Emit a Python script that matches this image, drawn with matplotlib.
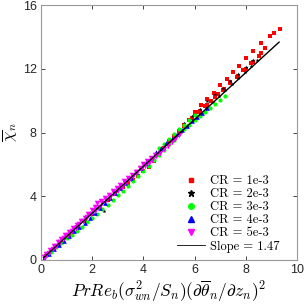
import matplotlib
matplotlib.use("Agg")
import matplotlib.pyplot as plt
from matplotlib.lines import Line2D

plt.rcParams['mathtext.fontset'] = 'cm'
plt.rcParams['font.family'] = ['Liberation Sans', 'DejaVu Sans']

# ---- data ----
labels = ["CR = 1e-3", "CR = 2e-3", "CR = 3e-3", "CR = 4e-3", "CR = 5e-3"]
slope = 1.47
line_x = [0.1, 9.3]

# CR = 1e-3 (red squares), several profiles
red_x1 = [0.2, 0.5, 0.8, 1.1, 1.4, 1.7, 2.0, 2.3, 2.6, 2.9, 3.2, 3.4, 3.6, 3.8, 4.0, 4.2, 4.4, 4.6, 4.8, 5.0, 5.2, 5.4, 5.6, 5.8, 6.0]
red_y1 = [0.25, 0.7, 1.15, 1.6, 2.05, 2.45, 2.9, 3.3, 3.75, 4.15, 4.55, 4.85, 5.0, 5.3, 5.6, 5.85, 6.2, 6.6, 7.0, 7.45, 7.75, 8.1, 8.4, 8.8, 9.15]
red_x2 = [6.0, 6.25, 6.5, 6.75, 7.0, 7.25, 7.5, 7.75, 8.0, 8.3, 8.6, 8.95, 9.34]
red_y2 = [9.3, 9.7, 10.1, 10.5, 10.95, 11.35, 11.8, 12.2, 12.65, 13.1, 13.6, 14.05, 14.5]
red_x3 = [5.9, 6.15, 6.4, 6.65, 6.9, 7.15, 7.4, 7.65, 7.9, 8.2, 8.5, 8.75, 9.1]
red_y3 = [8.9, 9.3, 9.65, 10.0, 10.4, 10.75, 11.15, 11.5, 11.9, 12.35, 12.8, 13.3, 14.25]
red_x4 = [5.6, 5.9, 6.2, 6.5, 6.8, 7.1, 7.4, 7.7, 8.0, 8.3, 8.6]
red_y4 = [8.45, 8.9, 9.35, 9.75, 10.2, 10.65, 11.1, 11.55, 12.0, 12.45, 13.0]

# CR = 2e-3 (black stars)
blk_x1 = [0.2, 0.45, 0.7, 0.95, 1.2, 1.45, 1.7, 1.95, 2.2, 2.45, 2.7, 2.95, 3.2, 3.45, 3.7, 3.95, 4.2, 4.45, 4.7, 4.95, 5.2, 5.45, 5.7, 5.95, 6.2, 6.45, 6.7, 6.95, 7.2, 7.45, 7.7, 7.95, 8.2, 8.45]
blk_y1 = [0.3, 0.66, 1.03, 1.4, 1.77, 2.13, 2.5, 2.87, 3.24, 3.1, 3.97, 4.34, 4.7, 5.07, 5.44, 5.81, 6.17, 6.54, 6.91, 7.28, 7.64, 8.01, 8.4, 8.78, 9.15, 9.53, 9.9, 10.28, 10.65, 11.03, 11.4, 11.78, 12.15, 12.53]
blk_x2 = [5.6, 5.9, 6.2, 6.5, 6.8, 7.1, 7.4, 7.7, 8.0, 8.3]
blk_y2 = [8.6, 9.05, 9.5, 9.95, 10.4, 10.8, 11.25, 11.7, 12.1, 12.55]

# CR = 3e-3 (green circles)
grn_x1 = [0.2, 0.4, 0.6, 0.8, 1.0, 1.2, 1.4, 1.6, 1.8, 2.0, 2.2, 2.4, 2.6, 2.8, 3.0, 3.2, 3.4, 3.6, 3.8, 4.0, 4.2, 4.4, 4.6, 4.8, 5.0, 5.2, 5.4, 5.6, 5.8, 6.0, 6.2, 6.4, 6.6, 6.8, 7.0, 7.2]
grn_y1 = [0.25, 0.5, 0.8, 1.05, 1.35, 1.6, 1.85, 2.1, 2.4, 2.65, 2.9, 3.2, 3.45, 3.75, 4.05, 4.35, 4.65, 4.95, 5.3, 5.6, 5.9, 6.25, 6.6, 6.9, 7.25, 7.55, 7.9, 8.2, 8.5, 8.8, 9.05, 9.3, 9.55, 9.8, 10.05, 10.3]
grn_x2 = [4.6, 4.8, 5.0, 5.2, 5.4, 5.6, 5.8, 6.0]
grn_y2 = [7.0, 7.3, 7.6, 7.9, 8.2, 8.5, 8.8, 9.1]

# CR = 4e-3 (blue up-triangles)
blu_x = [0.1, 0.3, 0.5, 0.7, 0.9, 1.1, 1.3, 1.5, 1.7, 1.9, 2.1, 2.3, 2.5, 2.7, 2.9, 3.1, 3.3, 3.5, 3.7, 3.9, 4.1, 4.3, 4.5, 4.7, 4.9, 5.1, 5.3, 5.5, 5.7, 5.9, 6.1, 6.3, 6.5]
blu_y = [0.12, 0.4, 0.68, 0.95, 1.22, 1.5, 1.8, 2.05, 2.35, 2.65, 2.95, 3.25, 3.55, 3.9, 4.2, 4.5, 4.85, 5.15, 5.5, 5.8, 6.1, 6.4, 6.75, 7.05, 7.35, 7.6, 7.9, 8.15, 8.4, 8.7, 8.95, 9.25, 9.55]

# CR = 5e-3 (magenta down-triangles)
mag_x1 = [0.1, 0.2, 0.35, 0.5, 0.65, 0.8, 0.95, 1.1, 1.25, 1.4, 1.55, 1.7, 1.85, 2.0, 2.1, 2.2, 2.35, 2.5, 2.65, 2.8, 2.95, 3.1, 3.25, 3.4, 3.55, 3.7, 3.85, 4.0, 4.15, 4.3, 4.45]
mag_y1 = [0.2, 0.4, 0.65, 0.85, 1.1, 1.3, 1.55, 1.75, 2.0, 2.2, 2.45, 2.65, 2.9, 3.15, 3.35, 3.55, 3.7, 3.9, 4.1, 4.3, 4.5, 4.7, 4.95, 5.15, 5.35, 5.55, 5.8, 6.0, 6.2, 6.4, 6.6]
mag_x2 = [0.15, 0.3, 0.45, 0.6, 0.75, 0.9, 1.05, 1.2, 1.35, 1.5, 1.65, 1.8, 1.95, 2.1, 2.25, 2.4, 2.55, 2.7, 2.85, 3.0, 3.15, 3.3, 3.45, 3.6, 3.75, 3.9, 4.05, 4.2, 4.35, 4.5, 4.65, 4.8, 4.95, 5.1, 5.25, 5.4]
mag_y2 = [0.2, 0.45, 0.7, 0.9, 1.15, 1.35, 1.6, 1.8, 2.0, 2.25, 2.45, 2.7, 2.9, 3.1, 3.35, 3.55, 3.75, 3.95, 4.2, 4.4, 4.6, 4.85, 5.05, 5.3, 5.5, 5.7, 5.9, 6.1, 6.3, 6.5, 6.7, 6.95, 7.15, 7.4, 7.6, 7.85]

xticks = [0, 2, 4, 6, 8, 10]
yticks = [0, 4, 8, 12, 16]

# ---- figure ----
fig = plt.figure(figsize=(3.04, 3.05), dpi=100)
ax = fig.add_axes([41/304, 45/305, 256/304, 255/305])

for xs, ys in [(red_x1, red_y1), (red_x2, red_y2), (red_x3, red_y3), (red_x4, red_y4)]:
    ax.scatter(xs, ys, s=7, marker='s', color='#ff0000', linewidths=0)
for xs, ys in [(blk_x1, blk_y1), (blk_x2, blk_y2)]:
    ax.scatter(xs, ys, s=9, marker='*', color='black', linewidths=0)
for xs, ys in [(grn_x1, grn_y1), (grn_x2, grn_y2)]:
    ax.scatter(xs, ys, s=9, marker='o', color='#00ff00', linewidths=0)
ax.scatter(blu_x, blu_y, s=11, marker='^', color='#0000ff', linewidths=0)
for xs, ys in [(mag_x1, mag_y1), (mag_x2, mag_y2)]:
    ax.scatter(xs, ys, s=16, marker='v', color='#ff00ff', linewidths=0)

ax.plot(line_x, [slope*v for v in line_x], color='black', lw=1.0)

ax.set_xlim(0, 10)
ax.set_ylim(0, 16)
ax.set_xticks(xticks)
ax.set_yticks(yticks)
ax.tick_params(direction='in', top=True, right=True, length=3, width=0.6,
               colors='0.15', labelsize=9, pad=3)
for sp in ax.spines.values():
    sp.set_color('0.6')
    sp.set_linewidth(0.8)

ax.set_xlabel(r'$PrRe_b(\sigma^2_{wn}/S_n)(\partial\overline{\theta}_n/\partial z_n)^2$',
              fontsize=12.5, labelpad=2)
ax.set_ylabel(r'$\overline{\chi}_n$', fontsize=12, labelpad=3)

handles = [
    Line2D([], [], ls='none', marker='s', color='#ff0000', ms=3.5),
    Line2D([], [], ls='none', marker='*', color='black', ms=4.5),
    Line2D([], [], ls='none', marker='o', color='#00ff00', ms=4),
    Line2D([], [], ls='none', marker='^', color='#0000ff', ms=4),
    Line2D([], [], ls='none', marker='v', color='#ff00ff', ms=4),
    Line2D([], [], color='black', lw=0.6),
]
leg = ax.legend(handles, labels + [f"Slope = {slope:.2f}"], loc='lower right',
                frameon=False, prop={'family': 'cmr10', 'size': 9},
                handlelength=2.2, handletextpad=0.4, labelspacing=0.08,
                borderaxespad=0.3, bbox_to_anchor=(0.965, -0.005))

fig.savefig('out.png', dpi=100)
